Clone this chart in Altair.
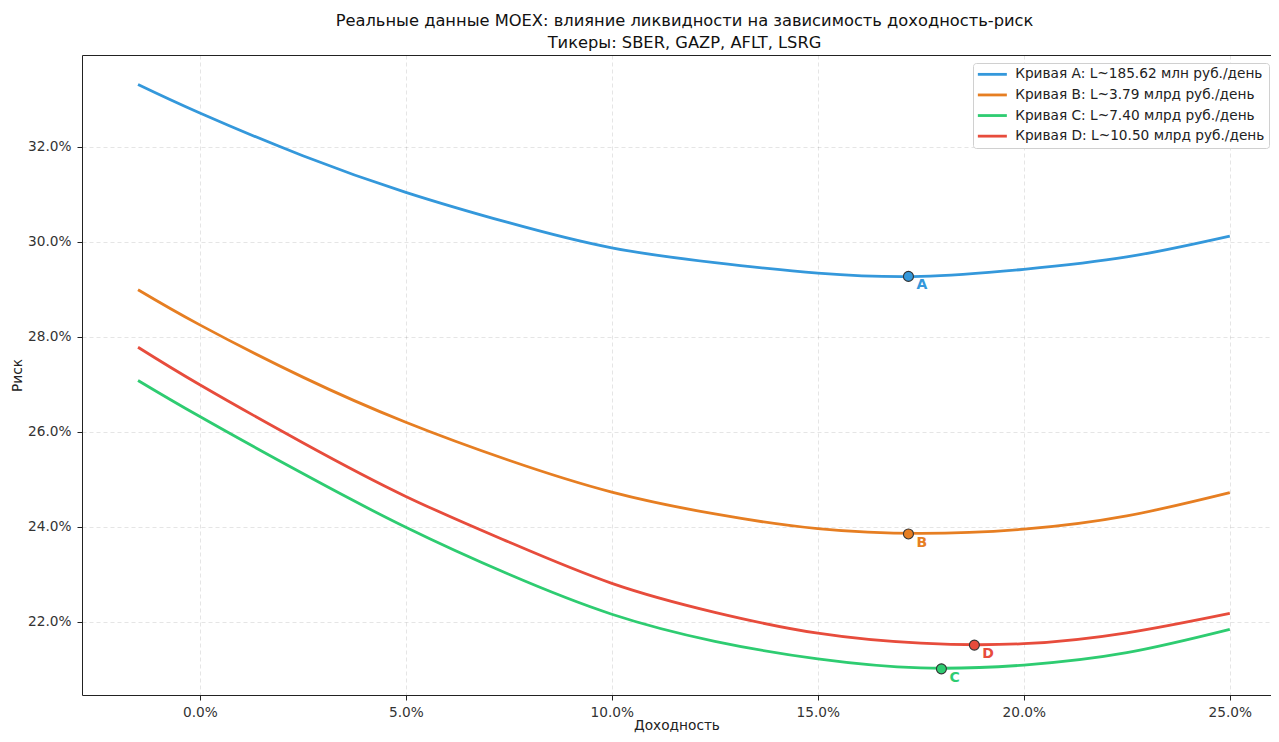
import altair as alt
import pandas as pd

# Доходность grid (%)
x_vals = [-1.5, 0.0, 2.5, 5.0, 7.5, 10.0, 12.5, 15.0, 17.5, 20.0, 22.5, 25.0]

# Риск (%)
risk_a = [33.31, 32.71, 31.81, 31.04, 30.40, 29.87, 29.56, 29.34, 29.27, 29.42, 29.68, 30.12]
risk_b = [28.99, 28.25, 27.15, 26.20, 25.40, 24.73, 24.27, 23.96, 23.86, 23.95, 24.23, 24.72]
risk_c = [27.08, 26.32, 25.12, 23.99, 23.00, 22.16, 21.59, 21.22, 21.03, 21.09, 21.35, 21.84]
risk_d = [27.78, 26.99, 25.77, 24.64, 23.68, 22.81, 22.20, 21.76, 21.55, 21.54, 21.77, 22.18]

curve_names = [
    "Кривая A: L~185.62 млн руб./день",
    "Кривая B: L~3.79 млрд руб./день",
    "Кривая C: L~7.40 млрд руб./день",
    "Кривая D: L~10.50 млрд руб./день",
]
curve_colors = ["#3498db", "#e67e22", "#2ecc71", "#e74c3c"]
letters = ["A", "B", "C", "D"]

# minimum-risk markers
min_ret = [17.2, 17.2, 18.0, 18.8]
min_risk = [29.27, 23.85, 21.01, 21.51]

rows = []
for name, ys in zip(curve_names, [risk_a, risk_b, risk_c, risk_d]):
    for xv, yv in zip(x_vals, ys):
        rows.append({"curve": name, "ret": xv, "risk": yv})
lines_df = pd.DataFrame(rows)

pts_df = pd.DataFrame({
    "curve": curve_names,
    "letter": letters,
    "hex": curve_colors,
    "ret": min_ret,
    "risk": min_risk,
})

FONT = "DejaVu Sans"
FS = 13.7
x_scale = alt.Scale(domain=[-2.86, 26.0], nice=False, zero=False)
y_scale = alt.Scale(domain=[20.46, 33.93], nice=False, zero=False)
pct = "format(datum.value, '.1f') + '%'"

x_enc = alt.X("ret:Q", scale=x_scale, title="Доходность",
              axis=alt.Axis(values=[0, 5, 10, 15, 20, 25], labelExpr=pct,
                            labelPadding=5, titlePadding=0))
y_enc = alt.Y("risk:Q", scale=y_scale, title="Риск",
              axis=alt.Axis(values=[22, 24, 26, 28, 30, 32], labelExpr=pct,
                            labelPadding=6, titlePadding=3))

lines = alt.Chart(lines_df).mark_line(strokeWidth=2.8, interpolate="natural").encode(
    x=x_enc,
    y=y_enc,
    color=alt.Color("curve:N",
                    scale=alt.Scale(domain=curve_names, range=curve_colors),
                    sort=curve_names,
                    legend=alt.Legend(title=None, orient="none", legendX=891, legendY=8,
                                      symbolType="M-1.3,0L4.5,0", symbolSize=100,
                                      symbolStrokeWidth=2.8,
                                      labelFont=FONT, labelFontSize=FS, labelColor="#222",
                                      labelLimit=400,
                                      fillColor="white", strokeColor="#d0d0d0",
                                      cornerRadius=3, padding=4.5, rowPadding=5.6,
                                      labelOffset=24)),
)

points = alt.Chart(pts_df).mark_point(filled=True, size=100, stroke="#333333",
                                      strokeWidth=1.1, opacity=1, shape="circle").encode(
    x=x_enc, y=y_enc,
    fill=alt.Fill("hex:N", scale=None),
)

labels = alt.Chart(pts_df).mark_text(align="left", baseline="middle", dx=8, dy=9,
                                     fontSize=14, fontWeight="bold", font=FONT).encode(
    x=x_enc, y=y_enc,
    text="letter:N",
    color=alt.Color("hex:N", scale=None),
)

chart = alt.layer(lines, points, labels).properties(
    width=1189,
    height=640,
    title=alt.TitleParams(
        text=["Реальные данные MOEX: влияние ликвидности на зависимость доходность-риск",
              "Тикеры: SBER, GAZP, AFLT, LSRG"],
        font=FONT, fontSize=16.3, fontWeight="normal", color="#111",
        anchor="middle", offset=4, lineHeight=22, dx=8,
    ),
    autosize=alt.AutoSizeParams(type="none"),
    padding={"left": 74, "top": 47, "right": 0, "bottom": 39},
).configure_view(
    stroke="#222222", strokeWidth=1,
).configure_axis(
    domain=False,
    grid=True, gridDash=[4, 3], gridColor="#000000", gridOpacity=0.1, gridWidth=1,
    tickColor="#222222", tickSize=5, tickWidth=1,
    labelFont=FONT, labelFontSize=FS, labelColor="#333",
    titleFont=FONT, titleFontSize=FS, titleFontWeight="normal", titleColor="#222",
)

chart.save("out.html", embed_options={"renderer": "svg", "actions": False})
